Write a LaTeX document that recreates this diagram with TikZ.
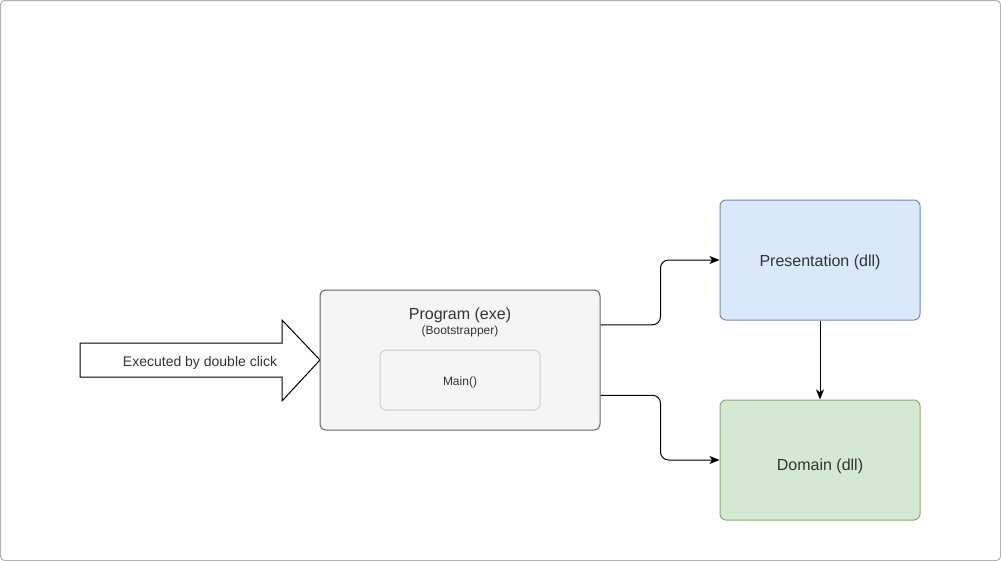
\documentclass[tikz,border=0pt]{standalone}
\usepackage{fontspec}
\setmainfont{Liberation Sans}
\usetikzlibrary{arrows.meta,calc}
\definecolor{txt}{HTML}{333333}
\definecolor{greyfill}{HTML}{F5F5F5}
\definecolor{greyline}{HTML}{666666}
\definecolor{lightline}{HTML}{CCCCCC}
\definecolor{bluefill}{HTML}{DAE8FC}
\definecolor{blueline}{HTML}{6C8EBF}
\definecolor{greenfill}{HTML}{D5E8D4}
\definecolor{greenline}{HTML}{82B366}
\definecolor{frame}{HTML}{B3B3B3}
\begin{document}
\begin{tikzpicture}[x=0.75pt,y=-0.75pt,
  box/.style={draw,rounded corners=4.5pt,line width=0.75pt,inner sep=0pt,text=txt},
  flow/.style={draw=black,line width=0.75pt,rounded corners=6pt,-{Stealth[length=7.5pt,width=6pt,inset=2pt]}},
  lbl/.style={text=txt,inner sep=0pt},
  big/.style={font=\fontsize{12}{14}\selectfont},
  mid/.style={font=\fontsize{10.5}{12}\selectfont},
  small/.style={font=\fontsize{9}{11}\selectfont}]
  \useasboundingbox (0,0) rectangle (1001,561);
  % outer frame
  \draw[frame,line width=0.75pt,rounded corners=3pt] (0.5,0.5) rectangle (1000.5,560.5);

  % big block arrow
  \draw[black,line width=0.75pt,fill=white]
    (80,343) -- (282,343) -- (282,320) -- (320,360) -- (282,401) -- (282,377) -- (80,377) -- cycle;
  \node[lbl,mid] (exec) at (200,362.5) {Executed by double click};

  % program box
  \node[box,fill=greyfill,draw=greyline,minimum width=210pt,minimum height=105pt] (prog) at (460,360) {};
  \node[lbl,big] (progt) at (460,315.5) {Program (exe)};
  \node[lbl,small] (progs) at (460,331.5) {(Bootstrapper)};
  \node[box,fill=greyfill,draw=lightline,minimum width=120pt,minimum height=45pt] (main) at (460,380) {};
  \node[lbl,small] (maint) at (460,382.5) {Main()};

  % library boxes
  \node[box,fill=bluefill,draw=blueline,minimum width=150pt,minimum height=90pt] (pres) at (820,260) {};
  \node[lbl,big] (prest) at (820,262) {Presentation (dll)};
  \node[box,fill=greenfill,draw=greenline,minimum width=150pt,minimum height=90pt] (dom) at (820,460) {};
  \node[lbl,big] (domt) at (820,466) {Domain (dll)};

  % connectors
  \coordinate (o1) at ($(prog.north east)!0.25!(prog.south east)$);
  \coordinate (o2) at ($(prog.north east)!0.75!(prog.south east)$);
  \draw[flow] (o1) -- ++(60,0) |- (pres.west);
  \draw[flow] (o2) -- ++(60,0) |- (dom.west);
  \draw[flow] (pres.south) -- (dom.north);
\end{tikzpicture}
\end{document}
